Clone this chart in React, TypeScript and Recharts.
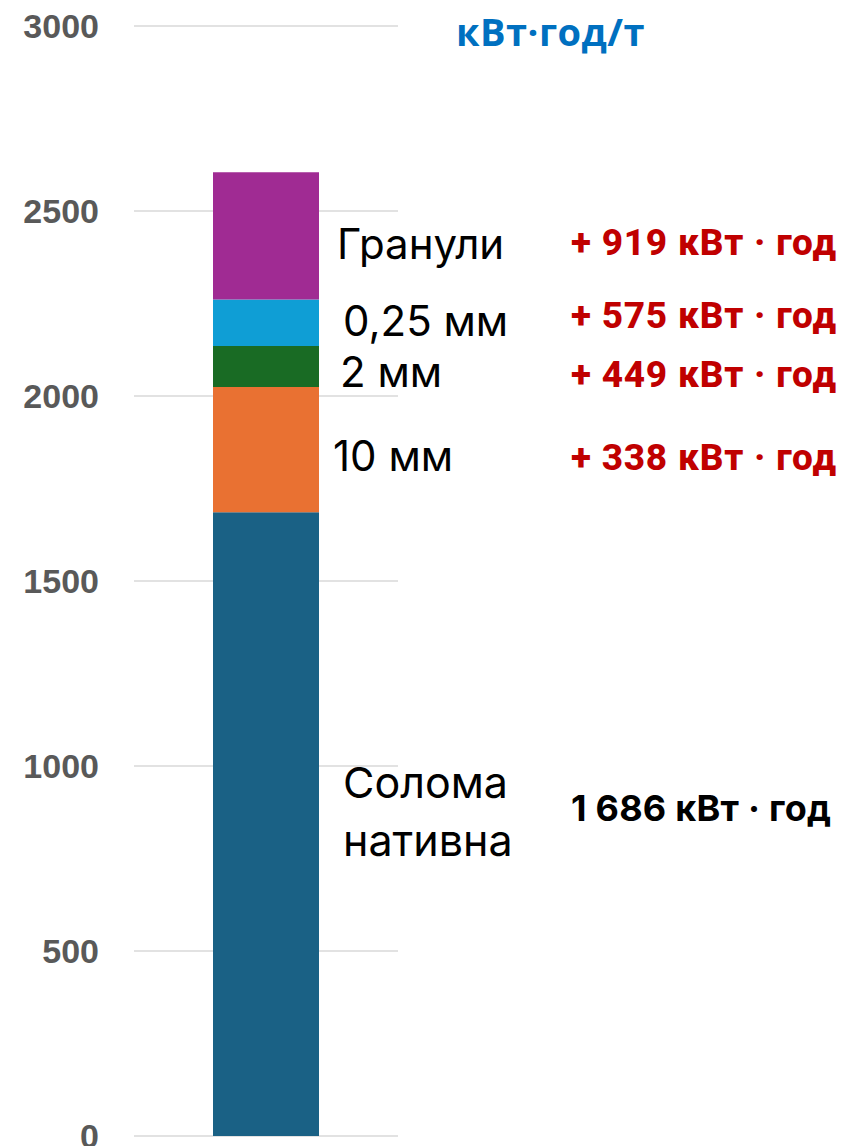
import { Bar, BarChart, CartesianGrid, XAxis, YAxis } from "recharts";

// одна стовпчикова колонка, складена з приростів
const stages = [["Солома", "нативна"], ["10 мм"], ["2 мм"], ["0,25 мм"], ["Гранули"]];
const stageKeys = ["native", "mm10", "mm2", "mm025", "pellets"];
const increments = [1686, 338, 111, 126, 344];
const totals = ["1 686 кВт · год", "+ 338 кВт · год", "+ 449 кВт · год", "+ 575 кВт · год", "+ 919 кВт · год"];
const yTicks = [0, 500, 1000, 1500, 2000, 2500, 3000];

const colors = ["#1A6185", "#E97132", "#196B24", "#0F9ED5", "#A02B93"];

// невеликі зсуви підписів відносно центру сегмента
const nameNudge = [
  { dx: 24, dy: -13 },
  { dx: 14, dy: 5 },
  { dx: 21, dy: 4 },
  { dx: 24, dy: -3 },
  { dx: 18, dy: 7 },
];
const totalNudge = [-16, 8, 8, -7, 7];

const row: Record<string, number | string> = { name: "Солома" };
stageKeys.forEach((k, i) => {
  row[k] = increments[i];
});
const data = [row];

const TOTAL_X = 571;

function makeLabel(i: number) {
  return (props: any) => {
    const x = Number(props.x);
    const y = Number(props.y);
    const w = Number(props.width);
    const h = Number(props.height);
    const cy = y + h / 2;
    const nx = x + w + nameNudge[i].dx;
    const ny = cy + nameNudge[i].dy;
    const lines = stages[i];
    const isBase = i === 0;
    return (
      <g>
        <text
          x={nx}
          y={ny - ((lines.length - 1) * 58) / 2}
          fill="#000"
          fontFamily="Inter, sans-serif"
          fontSize={isBase ? 43 : 42}
          dominantBaseline="central"
        >
          {lines.map((l, j) => (
            <tspan key={j} x={nx} dy={j === 0 ? 0 : 58}>
              {l}
            </tspan>
          ))}
        </text>
        <text
          x={TOTAL_X}
          y={cy + totalNudge[i]}
          fill={isBase ? "#000" : "#C00000"}
          fontFamily={isBase ? "Inter, sans-serif" : "Roboto, sans-serif"}
          fontWeight={isBase ? 700 : 800}
          fontSize={isBase ? 36 : 37}
          textLength={isBase ? 260 : 265}
          lengthAdjust="spacing"
          dominantBaseline="central"
        >
          {totals[i]}
        </text>
      </g>
    );
  };
}

export default function App() {
  return (
    <div style={{ position: "absolute", left: 0, top: 0, width: 841, height: 1146, background: "#fff" }}>
      <div
        style={{
          position: "absolute",
          left: 456,
          top: 7,
          fontFamily: "'Open Sans', sans-serif",
          fontWeight: 700,
          fontSize: 38,
          letterSpacing: 0.5,
          color: "#0070C0",
          lineHeight: "48px",
          whiteSpace: "nowrap",
        }}
      >
        кВт·год/т
      </div>
      <BarChart
        width={841}
        height={1146}
        data={data}
        margin={{ top: 26, right: 443, bottom: 10, left: 0 }}
      >
        <CartesianGrid horizontal vertical={false} stroke="#D9D9D9" strokeWidth={1.5} />
        <XAxis dataKey="name" hide />
        <YAxis
          width={134}
          domain={[0, 3000]}
          ticks={yTicks}
          interval={0}
          axisLine={false}
          tickLine={false}
          tickSize={0}
          tickMargin={35}
          tick={{
            fill: "#595959",
            fontSize: 34,
            fontWeight: 700,
            fontFamily: "'Liberation Sans', Arial, sans-serif",
          }}
        />
        {stageKeys.map((k, i) => (
          <Bar
            key={k}
            dataKey={k}
            stackId="a"
            fill={colors[i]}
            barSize={106}
            isAnimationActive={false}
            label={makeLabel(i)}
          />
        ))}
      </BarChart>
    </div>
  );
}
